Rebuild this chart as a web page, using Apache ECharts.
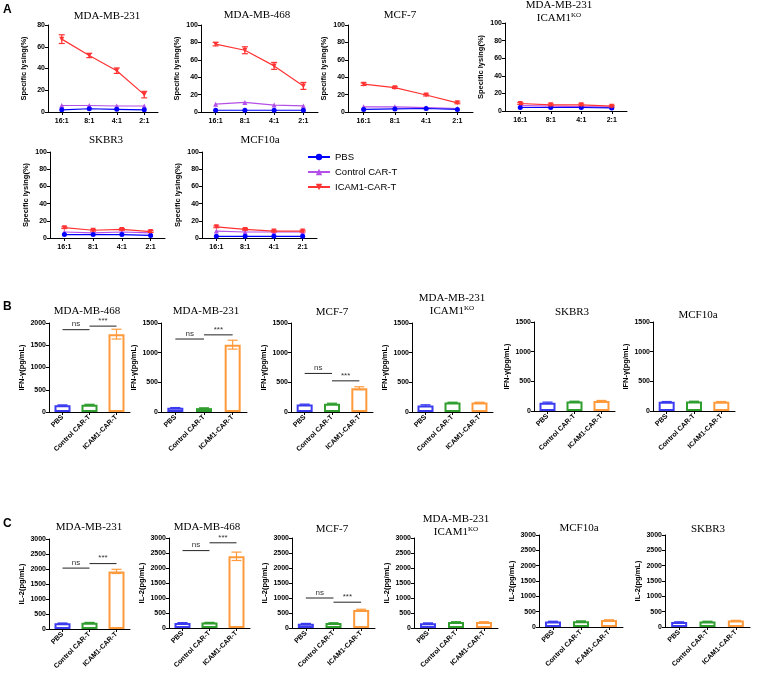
<!DOCTYPE html>
<html><head><meta charset="utf-8">
<script src="https://cdn.jsdelivr.net/npm/echarts@6/dist/echarts.min.js"></script>
<style>html,body{margin:0;padding:0;background:#fff}#c{width:758px;height:673px}</style>
</head><body><div id="c"></div>
<script>
// ---------- DATA ----------
const ratios = ['16:1', '8:1', '4:1', '2:1'];
const lysisTitles = ['MDA-MB-231', 'MDA-MB-468', 'MCF-7', 'MDA-MB-231\nICAM1{sup|KO}', 'SKBR3', 'MCF10a'];
const lysisMax = [80, 100, 100, 100, 100, 100];
const lysisPBS = [[2, 3, 2.5, 2], [2, 2, 2, 2], [3, 3.5, 4, 3], [4, 4, 4, 3.5], [4, 4, 4, 3], [2, 2, 2, 2]];
const lysisCtrl = [[6, 6, 5.5, 5.5], [9, 11, 8, 7], [6, 6, 5, 4], [6, 5.5, 5, 4.5], [7, 6, 7, 6], [8, 7, 7, 7]];
const lysisCar = [[67, 52, 38, 16], [78, 71, 53, 30], [32, 28, 19.5, 10.5], [8.5, 7, 7, 5.5], [12, 9, 10, 7.5], [13, 10, 8, 8]];
const lysisCarErr = [[4, 2, 2.5, 3], [2, 4, 4, 4], [1.5, 1, 1, 1], [1, 1, 1, 1], [1, 1, 1, 1], [1, 1, 1, 1]];

const groups = ['PBS', 'Control CAR-T', 'ICAM1-CAR-T'];
const ifnTitles = ['MDA-MB-468', 'MDA-MB-231', 'MCF-7', 'MDA-MB-231\nICAM1{sup|KO}', 'SKBR3', 'MCF10a'];
const ifnMax = [2000, 1500, 1500, 1500, 1500, 1500];
const ifnValues = [[150, 165, 1750], [70, 65, 1135], [125, 140, 400], [110, 160, 160], [140, 160, 170], [155, 160, 155]];
const ifnErr = [[10, 8, 110], [5, 5, 75], [8, 8, 25], [12, 5, 5], [10, 5, 8], [5, 5, 5]];
const ifnSigNs = [1850, 1230, 650, null, null, null];
const ifnSigStar = [1930, 1300, 525, null, null, null];

const il2Titles = ['MDA-MB-231', 'MDA-MB-468', 'MCF-7', 'MDA-MB-231\nICAM1{sup|KO}', 'MCF10a', 'SKBR3'];
const il2Max = [3000, 3000, 3000, 3000, 3000, 3000];
const il2Values = [[190, 210, 1920], [170, 180, 2390], [145, 165, 600], [160, 200, 200], [180, 190, 225], [160, 180, 210]];
const il2Err = [[10, 10, 70], [8, 8, 140], [8, 8, 25], [8, 8, 8], [8, 8, 10], [8, 8, 8]];
const il2SigNs = [2030, 2580, 1000, null, null, null];
const il2SigStar = [2180, 2840, 860, null, null, null];

const sigLabels = ['ns', '***'];

// ---------- LAYOUT / STYLE ----------
const lysisGrid = [[48, 25, 110, 87], [201, 25, 117, 87], [348, 25, 125, 87], [505, 23, 122, 88], [50, 152, 115, 86], [202, 152, 115, 86]];
const ifnGrid = [[49, 323, 81, 89], [161, 323, 86, 89], [291, 323, 82, 89], [412, 323, 81, 89], [534, 322, 81, 89], [653, 322, 82, 89]];
const il2Grid = [[49, 539, 81, 90], [169, 538, 81, 90], [292, 538, 83, 90], [414, 538, 84, 90], [539, 535, 84, 92], [665, 535, 85, 92]];
const lysisTitlePos = [[107, 10], [257, 9], [400, 9], [559, -1], [106, 134], [260, 134]];
const ifnTitlePos = [[87, 305], [206, 305], [332, 306], [452, 292], [572, 306], [698, 309]];
const il2TitlePos = [[89, 521], [207, 521], [332, 523], [456, 513], [579, 522], [708, 523]];

const lineColors = ['#0000ff', '#b44fe8', '#ff3333'];
const barColors = ['#3b3bf0', '#2f9e2f', '#ff9a3c'];
const SANS = 'Liberation Sans';
const SERIF = 'Liberation Serif';

const grids = [], xAxes = [], yAxes = [], series = [], titles = [];

function addTitle(text, pos) {
  titles.push({
    text: text, left: pos[0], top: pos[1], textAlign: 'center', padding: 0,
    textStyle: {
      fontFamily: SERIF, fontWeight: 'normal', fontSize: 11, color: '#000', lineHeight: 13,
      rich: { sup: { fontFamily: SERIF, fontSize: 7, verticalAlign: 'top', lineHeight: 13, padding: [0, 0, 4, 0] } }
    }
  });
}

function errRender(capW) {
  return function (params, api) {
    const x = api.value(0), y = api.value(1), e = api.value(2);
    const top = api.coord([x, y + e]), bot = api.coord([x, y - e]);
    const c = api.visual('color');
    const st = { stroke: c, lineWidth: 1.2 };
    return {
      type: 'group', children: [
        { type: 'line', shape: { x1: top[0], y1: top[1], x2: bot[0], y2: bot[1] }, style: st },
        { type: 'line', shape: { x1: top[0] - capW, y1: top[1], x2: top[0] + capW, y2: top[1] }, style: st },
        { type: 'line', shape: { x1: bot[0] - capW, y1: bot[1], x2: bot[0] + capW, y2: bot[1] }, style: st }
      ]
    };
  };
}

function sigRender(params, api) {
  const a = api.coord([api.value(0), api.value(2)]);
  const b = api.coord([api.value(1), api.value(2)]);
  return {
    type: 'group', children: [
      { type: 'line', shape: { x1: a[0], y1: a[1], x2: b[0], y2: b[1] }, style: { stroke: '#222', lineWidth: 1 } },
      {
        type: 'text', x: (a[0] + b[0]) / 2, y: a[1] - 1.5,
        style: {
          text: sigLabels[params.dataIndex], align: 'center', verticalAlign: 'bottom',
          textAlign: 'center', textVerticalAlign: 'bottom',
          fontSize: 8, fontFamily: SANS, fill: '#333'
        }
      }
    ]
  };
}

function axisPair(idx, g, cats, max, interval, yName, nameGap, rotate) {
  grids.push({ left: g[0], top: g[1], width: g[2], height: g[3], containLabel: false });
  xAxes.push({
    type: 'category', gridIndex: idx, data: cats, boundaryGap: true,
    axisLine: { lineStyle: { color: '#000', width: 1 } },
    axisTick: { show: true, alignWithLabel: true, length: 3, lineStyle: { color: '#000' } },
    axisLabel: {
      interval: 0, rotate: rotate, margin: rotate ? 4 : 6, color: '#000',
      fontFamily: SANS, fontWeight: 'bold', fontSize: 7
    }
  });
  yAxes.push({
    type: 'value', gridIndex: idx, min: 0, max: max, interval: interval,
    name: yName, nameLocation: 'middle', nameGap: nameGap,
    nameTextStyle: { fontFamily: SANS, fontWeight: 'bold', fontSize: 7.5, color: '#000' },
    splitLine: { show: false },
    axisLine: { show: true, lineStyle: { color: '#000', width: 1 } },
    axisTick: { show: true, length: 3, lineStyle: { color: '#000' } },
    axisLabel: {
      margin: 3, color: '#000', fontFamily: SANS, fontWeight: 'bold', fontSize: 7,
      formatter: function (v) { return String(v); }
    }
  });
}

// ---------- Panel A ----------
for (let i = 0; i < 6; i++) {
  const idx = grids.length;
  axisPair(idx, lysisGrid[i], ratios, lysisMax[i], 20, 'Specific lysing(%)', 20, 0);
  addTitle(lysisTitles[i], lysisTitlePos[i]);
  const common = { type: 'line', xAxisIndex: idx, yAxisIndex: idx, symbolSize: 5, lineStyle: { width: 1.2 } };
  series.push(Object.assign({}, common, { name: 'PBS', data: lysisPBS[i], symbol: 'circle', color: lineColors[0], z: 4 }));
  series.push(Object.assign({}, common, { name: 'Control CAR-T', data: lysisCtrl[i], symbol: 'triangle', color: lineColors[1], z: 3 }));
  series.push(Object.assign({}, common, { name: 'ICAM1-CAR-T', data: lysisCar[i], symbol: 'triangle', symbolRotate: 180, color: lineColors[2], z: 5 }));
  series.push({
    type: 'custom', xAxisIndex: idx, yAxisIndex: idx, color: lineColors[2], z: 5,
    data: lysisCar[i].map((v, k) => [k, v, lysisCarErr[i][k]]),
    encode: { x: 0, y: 1 }, renderItem: errRender(3)
  });
}

// ---------- Bar panels ----------
function barPanel(values, errs, maxs, names, grid, titlesArr, titlePos, sigNs, sigStar, yName) {
  for (let i = 0; i < 6; i++) {
    const idx = grids.length;
    axisPair(idx, grid[i], groups, maxs[i], 500, yName, 23, 45);
    addTitle(titlesArr[i], titlePos[i]);
    series.push({
      type: 'bar', name: names + i, xAxisIndex: idx, yAxisIndex: idx, barWidth: 16,
      data: values[i].map((v, k) => ({ value: v, itemStyle: { color: '#fff', borderColor: barColors[k], borderWidth: 2 } })),
      z: 2
    });
    series.push({
      type: 'custom', xAxisIndex: idx, yAxisIndex: idx, z: 3,
      data: values[i].map((v, k) => ({ value: [k, v, errs[i][k]], itemStyle: { color: barColors[k] } })),
      encode: { x: 0, y: 1 }, renderItem: errRender(5)
    });
    if (sigNs[i] !== null) {
      series.push({
        type: 'custom', xAxisIndex: idx, yAxisIndex: idx, z: 4,
        data: [[0, 1, sigNs[i]], [1, 2, sigStar[i]]],
        encode: { x: [0, 1], y: 2 }, renderItem: sigRender
      });
    }
  }
}
barPanel(ifnValues, ifnErr, ifnMax, 'ifn', ifnGrid, ifnTitles, ifnTitlePos, ifnSigNs, ifnSigStar, 'IFN-γ(pg/mL)');
barPanel(il2Values, il2Err, il2Max, 'il2', il2Grid, il2Titles, il2TitlePos, il2SigNs, il2SigStar, 'IL-2(pg/mL)');

// panel letters
[['A', 3, 4], ['B', 3, 301], ['C', 3, 518]].forEach(p => titles.push({
  text: p[0], left: p[1], top: p[2], padding: 0,
  textStyle: { fontFamily: SANS, fontWeight: 'bold', fontSize: 12, color: '#000' }
}));

const chart = echarts.init(document.getElementById('c'));
chart.setOption({
  animation: false,
  backgroundColor: '#fff',
  title: titles,
  legend: {
    orient: 'vertical', left: 302, top: 147, itemGap: 5, itemWidth: 22, itemHeight: 8,
    data: ['PBS', 'Control CAR-T', 'ICAM1-CAR-T'],
    textStyle: { fontFamily: SANS, fontSize: 9.5, color: '#000' }
  },
  grid: grids, xAxis: xAxes, yAxis: yAxes, series: series
});
</script></body></html>
